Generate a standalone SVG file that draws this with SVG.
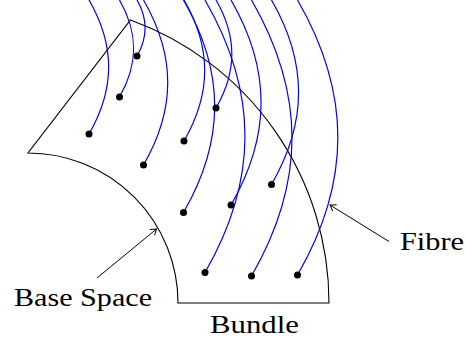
<svg xmlns="http://www.w3.org/2000/svg" width="466" height="347" viewBox="0 0 466 347">
<style>
.shape{fill:none;stroke:#000;stroke-width:1.1}
.fibre{fill:none;stroke:#0000ff;stroke-width:1.2}
.dot{fill:#000}
.arrow{fill:none;stroke:#000;stroke-width:1}
.lbl{font-family:"Liberation Serif","DejaVu Serif",serif;font-size:26px;fill:#000}
</style>
<defs>
<marker id="tip" markerUnits="userSpaceOnUse" markerWidth="12" markerHeight="12" refX="0" refY="0" viewBox="-8 -6 10 12" orient="auto">
<path d="M -5.5,-3.8 Q -1.5,-0.8 0,0 Q -1.5,0.8 -5.5,3.8" fill="none" stroke="#000" stroke-width="1"/>
</marker>
</defs>
<g id="bundle">
<path class="shape" d="M 28,153 A 150 150 0 0 1 178,303 L 329,303 A 301 301 0 0 0 130.5,20 Z"/>
</g>
<g id="fibres">
<path class="fibre" d="M 89,134 C 115.2,88.6 115.2,45.4 89,0"/>
<path class="fibre" d="M 119.5,97 C 138.5,64.1 138.5,32.9 119.5,0"/>
<path class="fibre" d="M 137,56 C 148,37 148,19 137,0"/>
<path class="fibre" d="M 143.5,165 C 175.8,109.1 175.8,55.9 143.5,0"/>
<path class="fibre" d="M 184,141 C 211.6,93.2 211.6,47.8 184,0"/>
<path class="fibre" d="M 216,108 C 237.1,71.4 237.1,36.6 216,0"/>
<path class="fibre" d="M 183.5,212.5 C 225.1,140.5 225.1,72 183.5,0"/>
<path class="fibre" d="M 231,205 C 271.1,135.5 271.1,69.5 231,0"/>
<path class="fibre" d="M 271.5,184.5 C 307.6,122 307.6,62.6 271.5,0"/>
<path class="fibre" d="M 205,272.5 C 258.3,180.1 258.3,92.4 205,0"/>
<path class="fibre" d="M 251.5,276 C 305.5,182.4 305.5,93.6 251.5,0"/>
<path class="fibre" d="M 297.5,275 C 351.3,181.8 351.3,93.2 297.5,0"/>
</g>
<g id="points">
<circle class="dot" cx="89" cy="134" r="3.5"/>
<circle class="dot" cx="119.5" cy="97" r="3.5"/>
<circle class="dot" cx="137" cy="56" r="3.5"/>
<circle class="dot" cx="143.5" cy="165" r="3.5"/>
<circle class="dot" cx="184" cy="141" r="3.5"/>
<circle class="dot" cx="216" cy="108" r="3.5"/>
<circle class="dot" cx="183.5" cy="212.5" r="3.5"/>
<circle class="dot" cx="231" cy="205" r="3.5"/>
<circle class="dot" cx="271.5" cy="184.5" r="3.5"/>
<circle class="dot" cx="205" cy="272.5" r="3.5"/>
<circle class="dot" cx="251.5" cy="276" r="3.5"/>
<circle class="dot" cx="297.5" cy="275" r="3.5"/>
</g>
<g id="connectors">
<line class="arrow" x1="97" y1="278" x2="156.5" y2="229" marker-end="url(#tip)"/>
<line class="arrow" x1="389" y1="241.5" x2="330" y2="205" marker-end="url(#tip)"/>
</g>
<g id="label-base">
<text class="lbl" x="14" y="306" textLength="138" lengthAdjust="spacingAndGlyphs">Base Space</text>
</g>
<g id="label-bundle">
<text class="lbl" x="210" y="333" textLength="89" lengthAdjust="spacingAndGlyphs">Bundle</text>
</g>
<g id="label-fibre">
<text class="lbl" x="400" y="249.5" textLength="64" lengthAdjust="spacingAndGlyphs">Fibre</text>
</g>
</svg>
